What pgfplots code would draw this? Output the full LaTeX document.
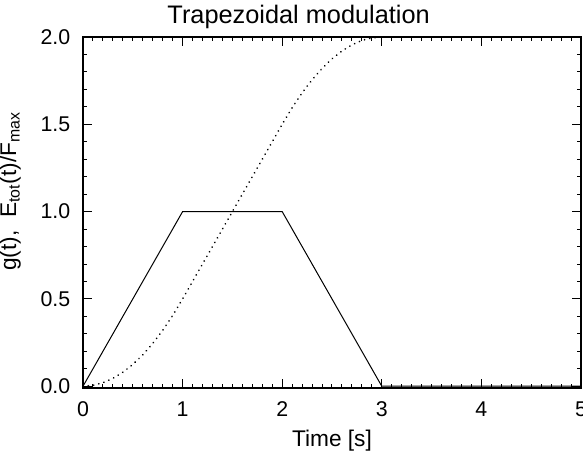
\documentclass[border=0pt]{standalone}
\usepackage{pgfplots}
\pgfplotsset{compat=1.18}
\usepackage{fontspec}
\setmainfont{Liberation Sans}

\begin{document}
\begin{tikzpicture}
\begin{axis}[
    name=ax,
    scale only axis,
    width=373.5pt, height=263.25pt,
    xmin=0, xmax=5, ymin=-0.01, ymax=2.0,
    xtick={0,1,2,3,4,5}, ytick={0,0.5,1,1.5,2},
    minor x tick num=9, minor y tick num=4,
    tick align=inside, ticks=both,
    major tick length=6.75pt, minor tick length=3pt,
    axis line style={line width=1pt},
    every tick/.style={black, line width=0.75pt},
    tick label style={font=\fontsize{16}{18}\selectfont},
    /pgf/number format/assume math mode=true,
    yticklabel style={xshift=-6pt, /pgf/number format/.cd, fixed, fixed zerofill, precision=1},
    xticklabel style={yshift=-7pt, /pgf/number format/.cd, fixed, precision=0},
    title={Trapezoidal modulation},
    title style={font=\fontsize{19}{22}\selectfont, xshift=-25pt, yshift=-3pt},
    xlabel={Time [s]},
    ylabel={g(t),\ \ E\textsubscript{tot}(t)/F\textsubscript{max}},
    label style={font=\fontsize{17}{19}\selectfont},
    xlabel style={yshift=-3pt},
    ylabel style={at={(ticklabel cs:0.56)}, yshift=8pt},
    clip=true,
  ]
  % trapezoidal modulation g(t)
  \addplot[black, line width=0.75pt] coordinates {
    (0,0) (1,1) (2,1) (3,0) (5,0)
  };
  % normalised cumulative energy
  \addplot[black, line width=1.4pt, line cap=round, dash pattern=on 0.01pt off 4pt] coordinates {
    (0,0) (0.1,0.005) (0.2,0.02) (0.3,0.045) (0.4,0.08) (0.5,0.125)
    (0.6,0.18) (0.7,0.245) (0.8,0.32) (0.9,0.405) (1.0,0.5)
    (1.2,0.7) (1.4,0.9) (1.6,1.1) (1.8,1.3) (2.0,1.5)
    (2.1,1.595) (2.2,1.68) (2.3,1.755) (2.4,1.82) (2.5,1.875)
    (2.6,1.92) (2.7,1.955) (2.8,1.98) (2.9,1.995) (3.0,2.0) (5.0,2.0)
  };
\end{axis}
\pgfresetboundingbox
\path ([shift={(-62.25pt,-47.25pt)}]ax.south west) rectangle ([shift={(375pt,27.75pt)}]ax.north west);
\end{tikzpicture}
\end{document}
